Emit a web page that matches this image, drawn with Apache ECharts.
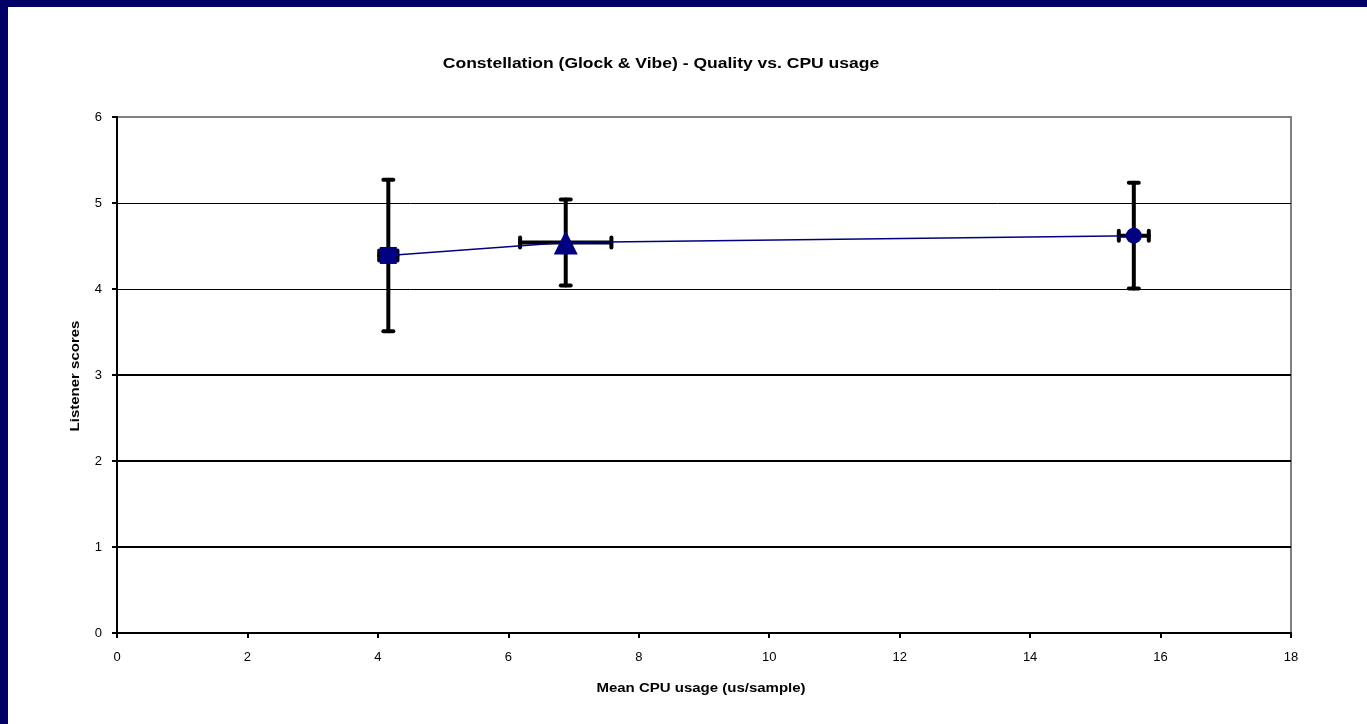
<!DOCTYPE html>
<html>
<head>
<meta charset="utf-8">
<script src="https://cdn.jsdelivr.net/npm/echarts@6/dist/echarts.min.js"></script>
<style>
html,body{margin:0;padding:0;background:#fff;}
#chart{width:1367px;height:724px;}
</style>
</head>
<body>
<div id="chart"></div>
<script>
// ---- data ----
var cpu = [4.16, 6.88, 15.59];
var cpuErr = [0.14, 0.70, 0.23];
var score = [4.39, 4.54, 4.62];
var scoreErr = [0.88, 0.50, 0.615];
var symbols = ['rect', 'triangle', 'circle'];
var symbolSizes = [17, 24, 16];
var xTicks = [0, 2, 4, 6, 8, 10, 12, 14, 16, 18];
var yTicks = [0, 1, 2, 3, 4, 5, 6];
var thinGrid = [4, 5];
var thickGrid = [1, 2, 3];
var titleText = 'Constellation (Glock & Vibe) - Quality vs. CPU usage';
var xName = 'Mean CPU usage (us/sample)';
var yName = 'Listener scores';

var chart = echarts.init(document.getElementById('chart'), null, {renderer: 'canvas'});
var FONT = '"Liberation Sans", Arial, sans-serif';
var STRETCH = 1.25;

var errData = cpu.map(function (x, i) {
  return [x, score[i], cpuErr[i], scoreErr[i]];
});
var lineData = cpu.map(function (x, i) {
  return {value: [x, score[i]], symbol: symbols[i], symbolSize: symbolSizes[i]};
});

function renderErr(params, api) {
  var x = api.value(0), y = api.value(1), ex = api.value(2), ey = api.value(3);
  var top = api.coord([x, y + ey]);
  var bot = api.coord([x, y - ey]);
  var left = api.coord([x - ex, y]);
  var right = api.coord([x + ex, y]);
  var cap = 5;
  var st = {stroke: '#000', lineWidth: 4, lineCap: 'round'};
  return {
    type: 'group',
    children: [
      {type: 'line', shape: {x1: top[0], y1: top[1], x2: bot[0], y2: bot[1]}, style: st},
      {type: 'line', shape: {x1: top[0] - cap, y1: top[1], x2: top[0] + cap, y2: top[1]}, style: st},
      {type: 'line', shape: {x1: bot[0] - cap, y1: bot[1], x2: bot[0] + cap, y2: bot[1]}, style: st},
      {type: 'line', shape: {x1: left[0], y1: left[1], x2: right[0], y2: right[1]}, style: st},
      {type: 'line', shape: {x1: left[0], y1: left[1] - cap, x2: left[0], y2: left[1] + cap}, style: st},
      {type: 'line', shape: {x1: right[0], y1: right[1] - cap, x2: right[0], y2: right[1] + cap}, style: st}
    ]
  };
}

var option = {
  backgroundColor: '#fff',
  animation: false,
  graphic: [
    {type: 'rect', shape: {x: 0, y: 0, width: 1367, height: 7}, style: {fill: '#000066'}, z: 100},
    {type: 'rect', shape: {x: 0, y: 0, width: 8, height: 724}, style: {fill: '#000066'}, z: 100},
    {type: 'text', x: 661, y: 64, scaleX: STRETCH,
      style: {text: titleText, font: 'bold 14px ' + FONT, fill: '#000', align: 'center', verticalAlign: 'middle'}},
    {type: 'text', x: 701, y: 689, scaleX: STRETCH,
      style: {text: xName, font: 'bold 12px ' + FONT, fill: '#000', align: 'center', verticalAlign: 'middle'}},
    {type: 'text', x: 76, y: 376, rotation: Math.PI / 2, scaleX: STRETCH,
      style: {text: yName, font: 'bold 12px ' + FONT, fill: '#000', align: 'center', verticalAlign: 'middle'}}
  ],
  grid: {
    left: 117, top: 117, width: 1174, height: 516,
    show: true, borderColor: '#808080', borderWidth: 2, backgroundColor: '#fff'
  },
  xAxis: {
    type: 'value', min: 0, max: 18, interval: 2,
    axisLine: {show: true, onZero: false, lineStyle: {color: '#000', width: 2}},
    axisTick: {show: true, length: 5, lineStyle: {color: '#000', width: 2}},
    axisLabel: {fontFamily: FONT, fontSize: 13, color: '#000', margin: 18,
      formatter: function (v) { return xTicks.indexOf(v) >= 0 ? String(v) : ''; }},
    splitLine: {show: false}
  },
  yAxis: {
    type: 'value', min: 0, max: 6, interval: 1,
    axisLine: {show: true, onZero: false, lineStyle: {color: '#000', width: 2}},
    axisTick: {show: true, length: 5, lineStyle: {color: '#000', width: 2}},
    axisLabel: {fontFamily: FONT, fontSize: 13, color: '#000', margin: 15,
      formatter: function (v) { return yTicks.indexOf(v) >= 0 ? String(v) : ''; }},
    splitLine: {show: false}
  },
  series: [
    {
      type: 'line',
      data: [],
      z: 1,
      markLine: {
        silent: true, symbol: 'none', label: {show: false},
        lineStyle: {color: '#000', width: 2, type: 'solid'},
        data: thickGrid.map(function (v) { return {yAxis: v}; })
          .concat(thinGrid.map(function (v) { return {yAxis: v, lineStyle: {width: 1}}; }))
      }
    },
    {
      type: 'line',
      data: lineData,
      lineStyle: {color: '#000080', width: 1.5},
      itemStyle: {color: '#000080'},
      z: 3
    },
    {
      type: 'custom',
      renderItem: renderErr,
      data: errData,
      encode: {x: 0, y: 1},
      z: 2
    }
  ]
};
chart.setOption(option);
</script>
</body>
</html>
